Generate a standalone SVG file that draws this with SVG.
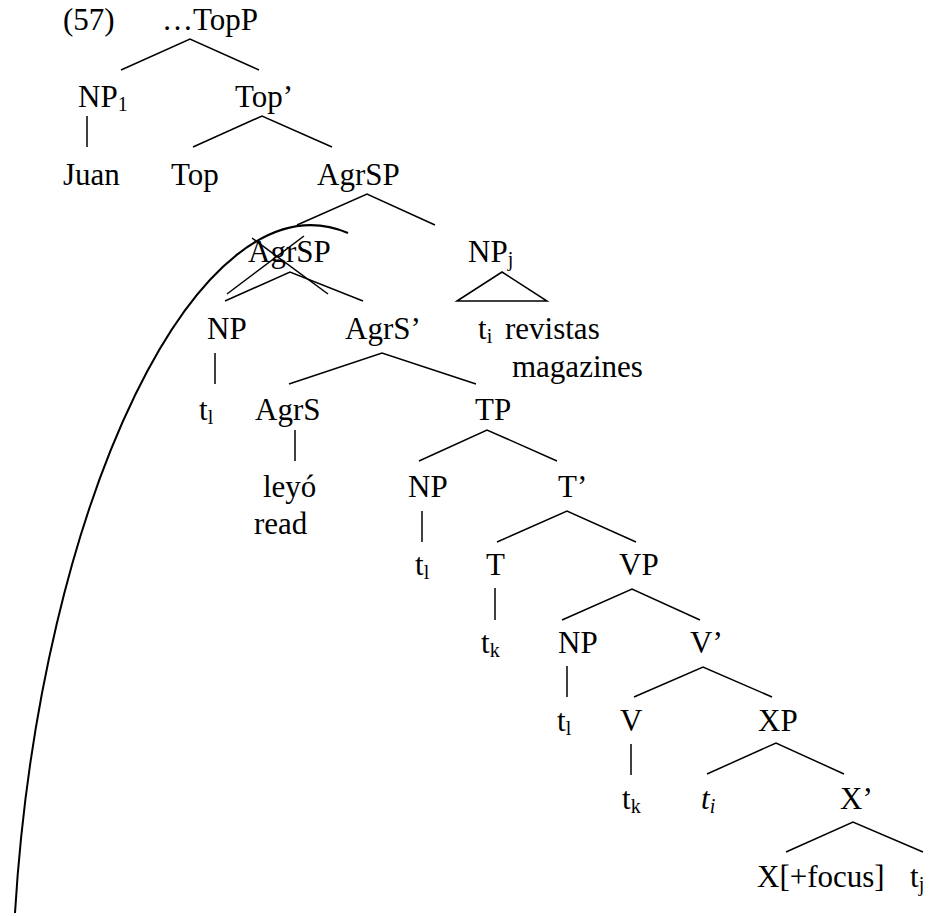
<svg xmlns="http://www.w3.org/2000/svg" width="937" height="916" viewBox="0 0 937 916">
<rect width="937" height="916" fill="#fff"/>
<g id="label57"><text x="63" y="30" font-family="Liberation Serif" font-size="31">(57)</text></g>
<g id="TopP"><text x="162" y="30" font-family="Liberation Serif" font-size="31">…TopP</text></g>
<g id="NP1"><text x="78" y="107" font-family="Liberation Serif" font-size="31">NP<tspan font-size="20" dy="4">1</tspan></text></g>
<g id="TopBar"><text x="235" y="107" font-family="Liberation Serif" font-size="31">Top’</text></g>
<g id="Juan"><text x="63" y="185" font-family="Liberation Serif" font-size="31">Juan</text></g>
<g id="Top"><text x="171" y="185" font-family="Liberation Serif" font-size="31">Top</text></g>
<g id="AgrSP"><text x="317" y="185" font-family="Liberation Serif" font-size="31">AgrSP</text></g>
<g id="AgrSP2"><text x="248" y="262" font-family="Liberation Serif" font-size="31">AgrSP</text></g>
<g id="NPj"><text x="468" y="262" font-family="Liberation Serif" font-size="31">NP<tspan font-size="20" dy="4">j</tspan></text></g>
<g id="NP_a"><text x="207" y="339" font-family="Liberation Serif" font-size="31">NP</text></g>
<g id="AgrSBar"><text x="345" y="339" font-family="Liberation Serif" font-size="31">AgrS’</text></g>
<g id="revistas"><text x="478" y="339" font-family="Liberation Serif" font-size="31">t<tspan font-size="20" dy="4">i</tspan></text><text x="505" y="339" font-family="Liberation Serif" font-size="31">revistas</text><text x="512" y="377" font-family="Liberation Serif" font-size="31">magazines</text></g>
<g id="tl_a"><text x="199" y="420" font-family="Liberation Serif" font-size="31">t<tspan font-size="20" dy="4">l</tspan></text></g>
<g id="AgrS"><text x="255" y="420" font-family="Liberation Serif" font-size="31">AgrS</text></g>
<g id="TP"><text x="475" y="420" font-family="Liberation Serif" font-size="31">TP</text></g>
<g id="leyo"><text x="263" y="497" font-family="Liberation Serif" font-size="31">leyó</text><text x="254" y="534" font-family="Liberation Serif" font-size="31">read</text></g>
<g id="NP_b"><text x="408" y="497" font-family="Liberation Serif" font-size="31">NP</text></g>
<g id="TBar"><text x="558" y="497" font-family="Liberation Serif" font-size="31">T’</text></g>
<g id="tl_b"><text x="415" y="575" font-family="Liberation Serif" font-size="31">t<tspan font-size="20" dy="4">l</tspan></text></g>
<g id="T"><text x="486" y="575" font-family="Liberation Serif" font-size="31">T</text></g>
<g id="VP"><text x="619" y="575" font-family="Liberation Serif" font-size="31">VP</text></g>
<g id="tk_a"><text x="481" y="653" font-family="Liberation Serif" font-size="31">t<tspan font-size="20" dy="4">k</tspan></text></g>
<g id="NP_c"><text x="558" y="653" font-family="Liberation Serif" font-size="31">NP</text></g>
<g id="VBar"><text x="690" y="653" font-family="Liberation Serif" font-size="31">V’</text></g>
<g id="tl_c"><text x="557" y="731" font-family="Liberation Serif" font-size="31">t<tspan font-size="20" dy="4">l</tspan></text></g>
<g id="V"><text x="620" y="731" font-family="Liberation Serif" font-size="31">V</text></g>
<g id="XP"><text x="758" y="731" font-family="Liberation Serif" font-size="31">XP</text></g>
<g id="tk_b"><text x="622" y="809" font-family="Liberation Serif" font-size="31">t<tspan font-size="20" dy="4">k</tspan></text></g>
<g id="ti"><text x="701" y="809" font-family="Liberation Serif" font-size="31" font-style="italic">t<tspan font-size="20" dy="4">i</tspan></text></g>
<g id="XBar"><text x="840" y="809" font-family="Liberation Serif" font-size="31">X’</text></g>
<g id="Xfocus"><text x="757" y="887" font-family="Liberation Serif" font-size="31">X[+focus]</text></g>
<g id="tj"><text x="910" y="887" font-family="Liberation Serif" font-size="31">t<tspan font-size="20" dy="4">j</tspan></text></g>
<g id="connectors" stroke="#000" stroke-width="1.5" fill="none">
<polyline points="121,70 190,39 259,70"/>
<line x1="87" y1="116" x2="87" y2="147"/>
<polyline points="193,147 262,116 332,147"/>
<polyline points="297,225 367,194 435,225"/>
<polyline points="225,301 290,272 363,301"/>
<polygon points="457,301 502,272 547,301"/>
<line x1="227" y1="294" x2="304" y2="236"/>
<line x1="252" y1="238" x2="328" y2="294"/>
<line x1="215" y1="353" x2="215" y2="384"/>
<polyline points="289,384 382,353 476,384"/>
<line x1="295" y1="430" x2="295" y2="461"/>
<polyline points="419,461 487,430 557,461"/>
<line x1="422" y1="511" x2="422" y2="542"/>
<polyline points="497,542 567,511 636,542"/>
<line x1="495" y1="588" x2="495" y2="620"/>
<polyline points="562,620 632,589 700,620"/>
<line x1="567" y1="666" x2="567" y2="697"/>
<polyline points="634,697 703,667 772,697"/>
<line x1="631" y1="744" x2="631" y2="775"/>
<polyline points="707,774 776,743 844,774"/>
<polyline points="786,852 853,822 923,852"/>
<path stroke-width="2" d="M15,913 C40,500 200,170 348,233"/>
</g>
</svg>
